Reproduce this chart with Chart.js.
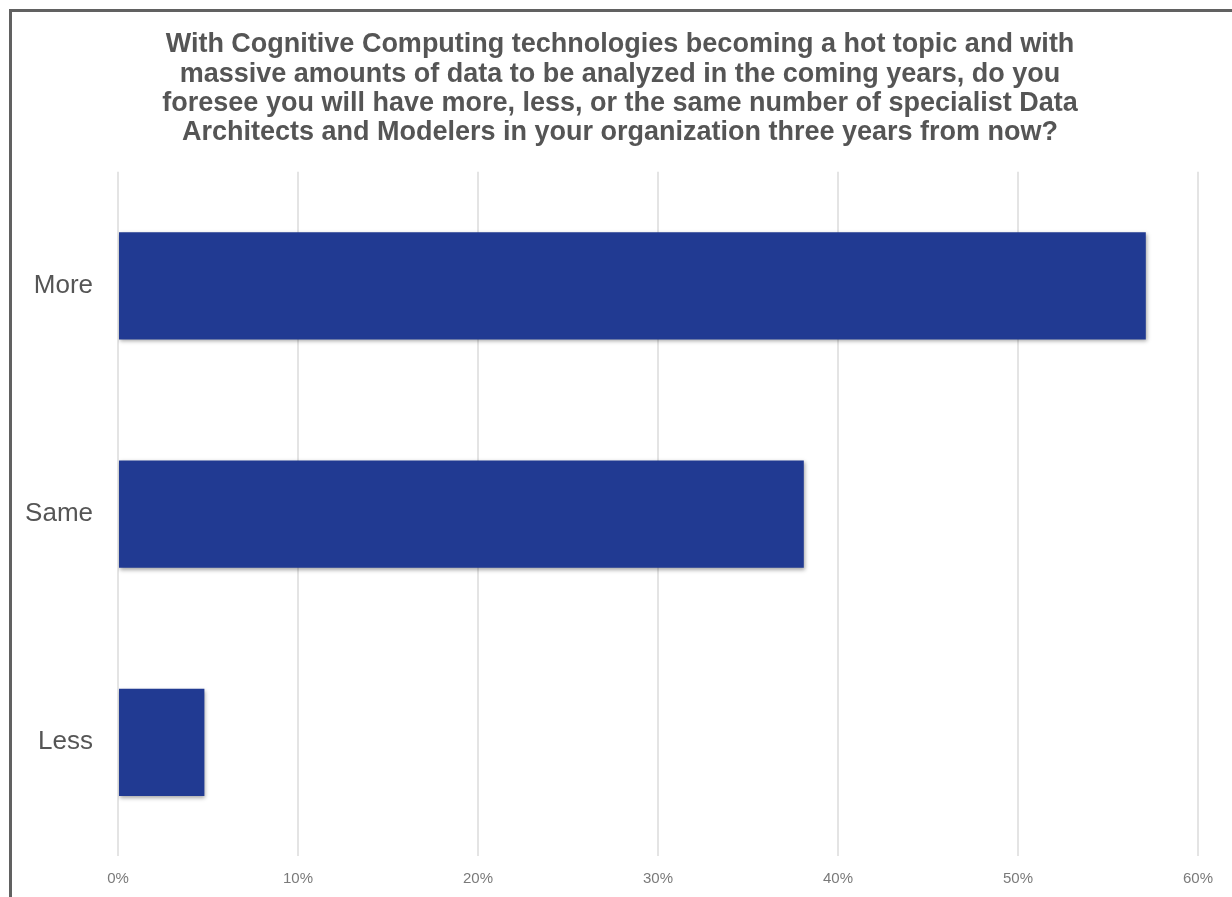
<!DOCTYPE html>
<html>
<head>
<meta charset="utf-8">
<script src="https://cdn.jsdelivr.net/npm/chart.js@4"></script>
<style>
  html, body { margin: 0; padding: 0; background: #fff; overflow: hidden; }
  #frame {
    position: absolute; left: 9px; top: 9px; width: 1240px; height: 900px;
    border: 3px solid #616161; box-sizing: border-box;
  }
  #wrap { position: absolute; left: 0; top: 0; width: 1232px; height: 897px; }
</style>
</head>
<body>
<div id="frame"></div>
<div id="wrap"><canvas id="chart" width="1232" height="897"></canvas></div>
<script>
// 回答データ
const categories = ['More', 'Same', 'Less'];
const shares = [57.1, 38.1, 4.8];
const tickValues = [0, 10, 20, 30, 40, 50, 60];
const titleLines = [
    'With Cognitive Computing technologies becoming a hot topic and with',
    'massive amounts of data to be analyzed in the coming years, do you',
    'foresee you will have more, less, or the same number of specialist Data',
    'Architects and Modelers in your organization three years from now?'
];

// バーに薄い影をつける
const barShadow = {
    id: 'barShadow',
    beforeDatasetsDraw(chart) {
        const c = chart.ctx;
        c.save();
        c.shadowColor = 'rgba(0,0,0,0.35)';
        c.shadowBlur = 4;
        c.shadowOffsetX = 1;
        c.shadowOffsetY = 2;
    },
    afterDatasetsDraw(chart) {
        chart.ctx.restore();
    }
};

// タイトルを元画像と同じく少し右寄せで中央に置く
const titleCenter = {
    id: 'titleCenter',
    afterLayout(chart) {
        if (chart.titleBlock) {
            chart.titleBlock.left = 0;
            chart.titleBlock.right = 1240;
        }
    }
};

const ctx = document.getElementById('chart').getContext('2d');
new Chart(ctx, {
    type: 'bar',
    data: {
        labels: categories,
        datasets: [{
            data: shares,
            backgroundColor: '#213a92',
            borderWidth: 0,
            barPercentage: 0.47,
            categoryPercentage: 1
        }]
    },
    plugins: [barShadow, titleCenter],
    options: {
        indexAxis: 'y',
        responsive: false,
        animation: false,
        layout: { padding: { left: 0, right: 34, top: 0, bottom: 0 } },
        plugins: {
            legend: { display: false },
            tooltip: { enabled: false },
            title: {
                display: true,
                text: titleLines,
                color: '#555555',
                font: { family: 'Liberation Sans, Arial, sans-serif', size: 27, weight: 'bold', lineHeight: 1.09 },
                padding: { top: 30, bottom: 24 }
            }
        },
        scales: {
            x: {
                min: 0,
                max: 60,
                afterBuildTicks(axis) {
                    axis.ticks = tickValues.map(v => ({ value: v }));
                },
                afterFit(axis) { axis.height = 38; },
                grid: { color: '#e4e4e4', lineWidth: 2, drawTicks: false },
                border: { display: false },
                ticks: {
                    padding: 13,
                    color: '#7a7a7a',
                    font: { family: 'Liberation Sans, Arial, sans-serif', size: 15 },
                    callback: v => v + '%'
                }
            },
            y: {
                afterFit(axis) { axis.width = 118; },
                grid: { display: false, drawTicks: false },
                border: { display: false },
                ticks: {
                    padding: 25,
                    color: '#555555',
                    font: { family: 'Liberation Sans, Arial, sans-serif', size: 26 }
                }
            }
        }
    }
});
</script>
</body>
</html>
